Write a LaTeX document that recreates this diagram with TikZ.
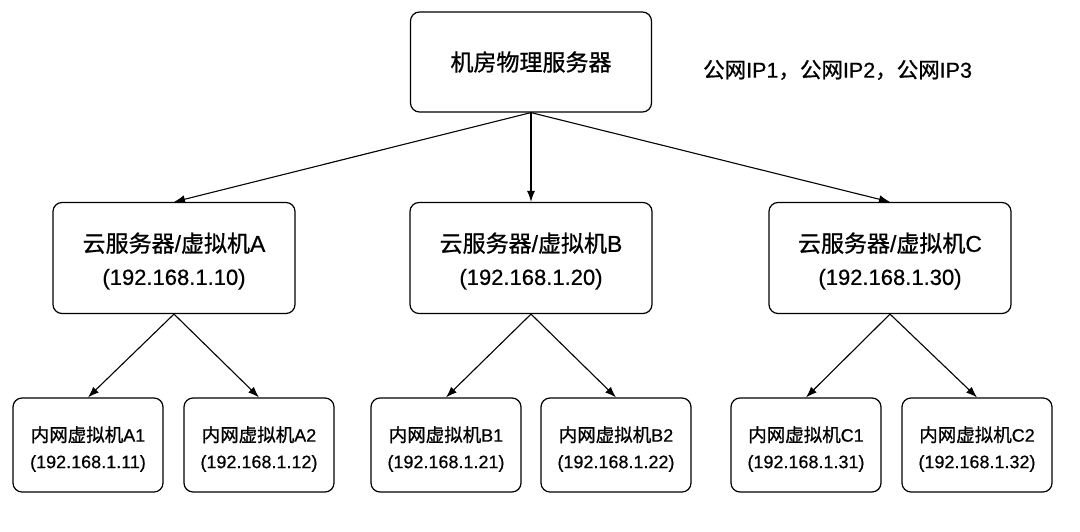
\documentclass[tikz,border=0pt]{standalone}
\usepackage{fontspec}
\setmainfont[FakeBold=0.6]{Liberation Sans}
\newfontfamily\cjk[FakeBold=0.9]{Noto Sans CJK SC}
\usetikzlibrary{arrows.meta}
\newcommand\zh[1]{{\cjk #1}}
\tikzset{
  box/.style={draw=black, line width=1.2pt, rounded corners=9pt, fill=white, inner sep=0pt},
  topbox/.style={box, minimum width=241pt, minimum height=100pt},
  midbox/.style={box, minimum width=242pt, minimum height=111pt},
  leafbox/.style={box, minimum width=150pt, minimum height=94pt},
  toptext/.style={align=center, inner sep=0pt, font=\fontsize{23}{26}\selectfont},
  midtext/.style={align=center, inner sep=0pt, font=\fontsize{22}{33}\selectfont},
  leaftext/.style={align=center, inner sep=0pt, font=\fontsize{18}{26.5}\selectfont},
  conn/.style={draw=black, line width=1.1pt, -{Latex[length=11pt,width=8pt]}},
}
\newcommand\midlabel[2]{{\fontsize{23}{33}\selectfont\zh{云服务器}/\zh{虚拟机}#1}\\(#2)}
\newcommand\leaflabel[2]{{\fontsize{18.5}{26.5}\selectfont\zh{内网虚拟机}}#1\\(#2)}
\begin{document}
\begin{tikzpicture}[x=1pt,y=-1pt]
\useasboundingbox[fill=white] (0,0) rectangle (1080,532);
\node[topbox] (top) at (531,62) {};
\node[toptext] (topt) at (top.center) {\zh{机房物理服务器}};
\node[font=\fontsize{21.5}{24}\selectfont, anchor=west, inner sep=0pt] (pub) at (703,70) {\zh{公网}IP1\zh{，公网}IP2\zh{，公网}IP3};

\node[midbox] (A) at (174,258) {};
\node[midbox] (B) at (531,258) {};
\node[midbox] (C) at (890,258) {};
\node[midtext] (At) at ([yshift=-3pt]A.center) {\midlabel{A}{192.168.1.10}};
\node[midtext] (Bt) at ([yshift=-3pt]B.center) {\midlabel{B}{192.168.1.20}};
\node[midtext] (Ct) at ([yshift=-3pt]C.center) {\midlabel{C}{192.168.1.30}};

\node[leafbox] (A1) at (88,445) {};
\node[leafbox] (A2) at (259,445) {};
\node[leafbox] (B1) at (446,445) {};
\node[leafbox] (B2) at (616,445) {};
\node[leafbox] (C1) at (806,445) {};
\node[leafbox] (C2) at (977,445) {};
\node[leaftext] (A1t) at ([yshift=-4pt]A1.center) {\leaflabel{A1}{192.168.1.11}};
\node[leaftext] (A2t) at ([yshift=-4pt]A2.center) {\leaflabel{A2}{192.168.1.12}};
\node[leaftext] (B1t) at ([yshift=-4pt]B1.center) {\leaflabel{B1}{192.168.1.21}};
\node[leaftext] (B2t) at ([yshift=-4pt]B2.center) {\leaflabel{B2}{192.168.1.22}};
\node[leaftext] (C1t) at ([yshift=-4pt]C1.center) {\leaflabel{C1}{192.168.1.31}};
\node[leaftext] (C2t) at ([yshift=-4pt]C2.center) {\leaflabel{C2}{192.168.1.32}};

\draw[conn] (top.south) -- (A.north);
\draw[conn] (top.south) -- (B.north);
\draw[conn] (top.south) -- (C.north);
\draw[conn] (A.south) -- (A1.north);
\draw[conn] (A.south) -- (A2.north);
\draw[conn] (B.south) -- (B1.north);
\draw[conn] (B.south) -- (B2.north);
\draw[conn] (C.south) -- (C1.north);
\draw[conn] (C.south) -- (C2.north);
\end{tikzpicture}
\end{document}
